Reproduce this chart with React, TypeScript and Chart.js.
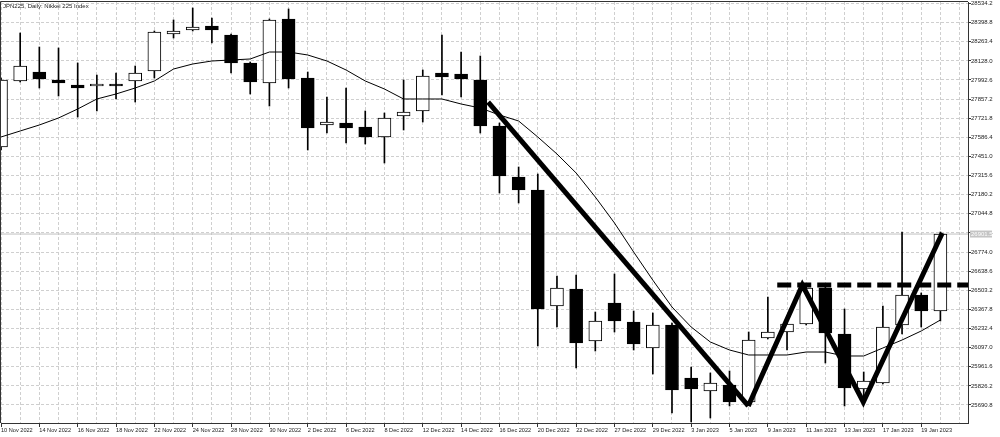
import React, { useEffect, useRef } from 'react';
import { Chart, registerables } from 'chart.js';

Chart.register(...registerables);

const TITLE = 'JPN225, Daily: Nikkei 225 Index';

const DATES = [
  '10 Nov 2022', '11 Nov 2022', '14 Nov 2022', '15 Nov 2022', '16 Nov 2022', '17 Nov 2022', '18 Nov 2022',
  '21 Nov 2022', '22 Nov 2022', '23 Nov 2022', '24 Nov 2022', '25 Nov 2022', '28 Nov 2022', '29 Nov 2022',
  '30 Nov 2022', '1 Dec 2022', '2 Dec 2022', '5 Dec 2022', '6 Dec 2022', '7 Dec 2022', '8 Dec 2022',
  '9 Dec 2022', '12 Dec 2022', '13 Dec 2022', '14 Dec 2022', '15 Dec 2022', '16 Dec 2022', '19 Dec 2022',
  '20 Dec 2022', '21 Dec 2022', '22 Dec 2022', '23 Dec 2022', '27 Dec 2022', '28 Dec 2022', '29 Dec 2022',
  '30 Dec 2022', '3 Jan 2023', '4 Jan 2023', '5 Jan 2023', '6 Jan 2023', '9 Jan 2023', '10 Jan 2023',
  '11 Jan 2023', '12 Jan 2023', '13 Jan 2023', '16 Jan 2023', '17 Jan 2023', '18 Jan 2023', '19 Jan 2023',
  '20 Jan 2023',
];

const OPEN = [
  27518.0, 27985.4, 28049.1, 27992.4, 27957.0, 27949.9, 27964.1, 27985.4, 28056.2, 28318.2,
  28346.5, 28374.9, 28311.1, 28112.8, 27971.2, 28424.4, 28006.6, 27673.8, 27687.9, 27659.6,
  27588.8, 27737.5, 27772.9, 28042.0, 28035.0, 27992.4, 27666.7, 27305.5, 27213.4, 26391.9,
  26512.3, 26144.0, 26413.2, 26278.6, 26094.5, 26257.4, 25882.0, 25789.9, 25832.4, 25712.0,
  26165.3, 26207.8, 26264.4, 26519.4, 26193.6, 25804.1, 25846.6, 26257.4, 26469.8, 26356.5,
];
const HIGH = [
  28006.6, 28325.3, 28226.1, 28219.1, 28112.8, 28027.9, 28042.0, 28091.6, 28339.5, 28417.4,
  28502.3, 28431.5, 28318.2, 28119.9, 28424.4, 28495.3, 28049.1, 27872.0, 27935.8, 27772.9,
  27758.7, 27992.4, 28063.3, 28311.1, 28190.7, 28162.4, 27687.9, 27376.3, 27326.7, 26604.4,
  26611.5, 26349.4, 26618.5, 26356.5, 26342.3, 26271.5, 25960.0, 25917.5, 25931.6, 26207.8,
  26455.6, 26314.0, 26526.5, 26526.5, 26370.7, 25924.5, 26391.9, 26916.0, 26484.0, 26916.0,
];
const LOW = [
  27496.7, 27978.3, 27935.8, 27879.1, 27730.4, 27772.9, 27857.9, 27836.6, 28006.6, 28289.9,
  28339.5, 28254.5, 28042.0, 27893.3, 27808.3, 27935.8, 27496.7, 27617.1, 27546.3, 27539.2,
  27404.6, 27638.3, 27695.0, 27886.2, 27872.0, 27617.1, 27192.2, 27121.4, 26108.6, 26243.2,
  25952.8, 26073.2, 26207.8, 26080.3, 25910.3, 25634.1, 25570.4, 25598.8, 25683.7, 25705.0,
  26158.2, 26080.3, 26257.4, 25988.2, 25683.7, 25712.0, 25839.5, 26193.6, 26243.2, 26285.7,
];
const CLOSE = [
  27992.4, 28091.6, 27999.5, 27971.2, 27935.8, 27964.1, 27949.9, 28042.0, 28332.4, 28339.5,
  28367.8, 28346.5, 28112.8, 27978.3, 28417.4, 27999.5, 27652.5, 27695.0, 27652.5, 27588.8,
  27723.3, 27765.8, 28020.8, 28013.7, 27999.5, 27666.7, 27312.6, 27213.4, 26370.7, 26519.4,
  26129.9, 26285.7, 26285.7, 26122.8, 26257.4, 25797.0, 25804.1, 25846.6, 25712.0, 26151.1,
  26207.8, 26264.4, 26519.4, 26200.7, 25811.2, 25860.8, 26243.2, 26469.8, 26356.5, 26901.5,
];

// Moving average line
const MA = [
  27588.8, 27631.3, 27673.8, 27723.3, 27787.1, 27857.9, 27893.3, 27935.8, 27985.4, 28070.3,
  28105.8, 28127.0, 28134.1, 28141.2, 28190.7, 28190.7, 28169.5, 28127.0, 28063.3, 27985.4,
  27928.7, 27857.9, 27857.9, 27857.9, 27822.5, 27794.1, 27744.6, 27702.1, 27588.8, 27468.4,
  27333.8, 27163.8, 26979.7, 26774.3, 26575.0, 26384.8, 26243.2, 26137.0, 26080.3, 26044.9,
  26044.9, 26044.9, 26066.1, 26066.1, 26037.8, 26037.8, 26094.5, 26151.1, 26214.9, 26292.8,
];

// Hand-drawn annotation objects (bar index, price)
const TREND_X = [25.41, 38.98];
const TREND_Y = [27836.6, 25683.7];
const ZIGZAG_X = [38.98, 41.8, 44.98, 49.1];
const ZIGZAG_Y = [25683.7, 26540.6, 25712.0, 26908.9];
const NECK_X = [40.49, 50.44];
const NECK_Y = [26540.6, 26540.6];

const Y_TICKS = [
  28534.2, 28398.8, 28263.4, 28128.0, 27992.6, 27857.2, 27721.8, 27586.4, 27451.0, 27315.6, 27180.2,
  27044.8, 26909.4, 26774.0, 26638.6, 26503.2, 26367.8, 26232.4, 26097.0, 25961.6, 25826.2, 25690.8,
];
const Y_MIN = 25563.3;
const Y_MAX = 28544.8;
const X_MIN = 0;
const X_MAX = 50.44;

const FONT = 'Liberation Sans';

export default function App() {
  const ref = useRef<HTMLCanvasElement>(null);

  useEffect(() => {
    if (!ref.current) return;
    const n = DATES.length;
    const idx = DATES.map((_, i) => i);
    const lastClose = CLOSE[n - 1];

    const overlay = {
      id: 'overlay',
      afterDraw(chart: any) {
        const { ctx, chartArea: a, scales } = chart;
        ctx.save();
        ctx.strokeStyle = '#333';
        ctx.lineWidth = 1;
        ctx.beginPath();
        ctx.moveTo(0.5, a.bottom);
        ctx.lineTo(0.5, 1.5);
        ctx.lineTo(a.right, 1.5);
        ctx.stroke();
        ctx.font = `6px "${FONT}"`;
        ctx.fillStyle = '#222';
        ctx.textBaseline = 'top';
        ctx.textAlign = 'left';
        ctx.fillText(TITLE, 3, 3);
        const py = scales.y.getPixelForValue(lastClose);
        ctx.fillStyle = '#c4c4c4';
        ctx.fillRect(a.right + 2, py - 3.5, 22, 7);
        ctx.fillStyle = '#ffffff';
        ctx.textBaseline = 'middle';
        ctx.fillText(lastClose.toFixed(1), a.right + 3, py + 0.5);
        ctx.restore();
      },
    };

    const zeroPad = (s: any) => {
      s.paddingLeft = 0;
      s.paddingRight = 0;
      s.paddingTop = 0;
      s.paddingBottom = 0;
    };

    const chart = new Chart(ref.current, {
      type: 'bar',
      data: {
        datasets: [
          {
            type: 'line',
            label: 'trend',
            data: TREND_X.map((x, i) => ({ x, y: TREND_Y[i] })),
            borderColor: '#000',
            borderWidth: 5,
            pointRadius: 0,
            order: 0,
          } as any,
          {
            type: 'line',
            label: 'zigzag',
            data: ZIGZAG_X.map((x, i) => ({ x, y: ZIGZAG_Y[i] })),
            borderColor: '#000',
            borderWidth: 5,
            pointRadius: 0,
            borderJoinStyle: 'miter',
            order: 0,
          },
          {
            type: 'line',
            label: 'neck',
            data: NECK_X.map((x, i) => ({ x, y: NECK_Y[i] })),
            borderColor: '#000',
            borderWidth: 5,
            borderDash: [14, 6],
            pointRadius: 0,
            order: 0,
          },
          {
            type: 'line',
            label: 'MA',
            data: idx.map((i) => ({ x: i, y: MA[i] })),
            borderColor: '#000',
            borderWidth: 1,
            pointRadius: 0,
            tension: 0,
            order: 1,
          },
          {
            type: 'bar',
            label: 'body',
            data: idx.map((i) => ({ x: i, y: [OPEN[i], CLOSE[i]] })),
            backgroundColor: idx.map((i) => (CLOSE[i] >= OPEN[i] ? '#ffffff' : '#000000')),
            borderColor: '#000',
            borderWidth: 1,
            borderSkipped: false,
            barThickness: 13,
            grouped: false,
            order: 3,
          },
          {
            type: 'bar',
            label: 'wick',
            data: idx.map((i) => ({ x: i, y: [LOW[i], HIGH[i]] })),
            backgroundColor: '#000',
            borderWidth: 0,
            barThickness: 1,
            grouped: false,
            order: 4,
          },
          {
            type: 'line',
            label: 'price',
            data: [
              { x: X_MIN, y: lastClose },
              { x: X_MAX, y: lastClose },
            ],
            borderColor: '#c0c0c0',
            borderWidth: 1,
            pointRadius: 0,
            order: 5,
          },
        ] as any,
      },
      options: {
        responsive: true,
        maintainAspectRatio: false,
        animation: false,
        events: [],
        layout: { padding: { left: 1, top: 2, right: 0, bottom: 0 } },
        plugins: { legend: { display: false }, tooltip: { enabled: false } },
        scales: {
          x: {
            type: 'linear',
            position: 'bottom',
            min: X_MIN,
            max: X_MAX,
            offset: false,
            afterBuildTicks: (s: any) => {
              s.ticks = Array.from({ length: 51 }, (_, i) => ({ value: i }));
            },
            afterFit: (s: any) => {
              s.height = 14;
              zeroPad(s);
            },
            ticks: {
              autoSkip: false,
              maxRotation: 0,
              minRotation: 0,
              align: 'start',
              padding: 0,
              color: '#222',
              font: { family: FONT, size: 5.6 },
              callback: (v: any) => {
                const k = Math.round(Number(v));
                return k % 2 === 0 && k < n ? DATES[k] : '';
              },
            },
            grid: {
              color: '#cfcfcf',
              lineWidth: 1,
              offset: false,
              drawTicks: true,
              tickLength: 4,
              tickColor: (c: any) => (c.index % 2 === 0 && c.index < n ? '#333' : 'rgba(0,0,0,0)'),
              tickBorderDash: [],
            },
            border: { display: true, color: '#333', width: 1, dash: [3, 2] },
          } as any,
          y: {
            type: 'linear',
            position: 'right',
            min: Y_MIN,
            max: Y_MAX,
            afterBuildTicks: (s: any) => {
              s.ticks = Y_TICKS.map((v) => ({ value: v }));
            },
            afterFit: (s: any) => {
              s.width = 32;
              zeroPad(s);
            },
            ticks: {
              autoSkip: false,
              padding: 0,
              crossAlign: 'near',
              color: '#222',
              font: { family: FONT, size: 6 },
              callback: (v: any) => Number(v).toFixed(1),
            },
            grid: {
              color: '#cfcfcf',
              lineWidth: 1,
              drawTicks: true,
              tickLength: 3,
              tickColor: '#333',
              tickBorderDash: [],
            },
            border: { display: true, color: '#333', width: 1, dash: [3, 2] },
          } as any,
        },
      },
      plugins: [overlay],
    });

    return () => chart.destroy();
  }, []);

  return (
    <div style={{ position: 'fixed', left: 0, top: 0, width: 1000, height: 437, background: '#fff' }}>
      <canvas ref={ref} />
    </div>
  );
}
